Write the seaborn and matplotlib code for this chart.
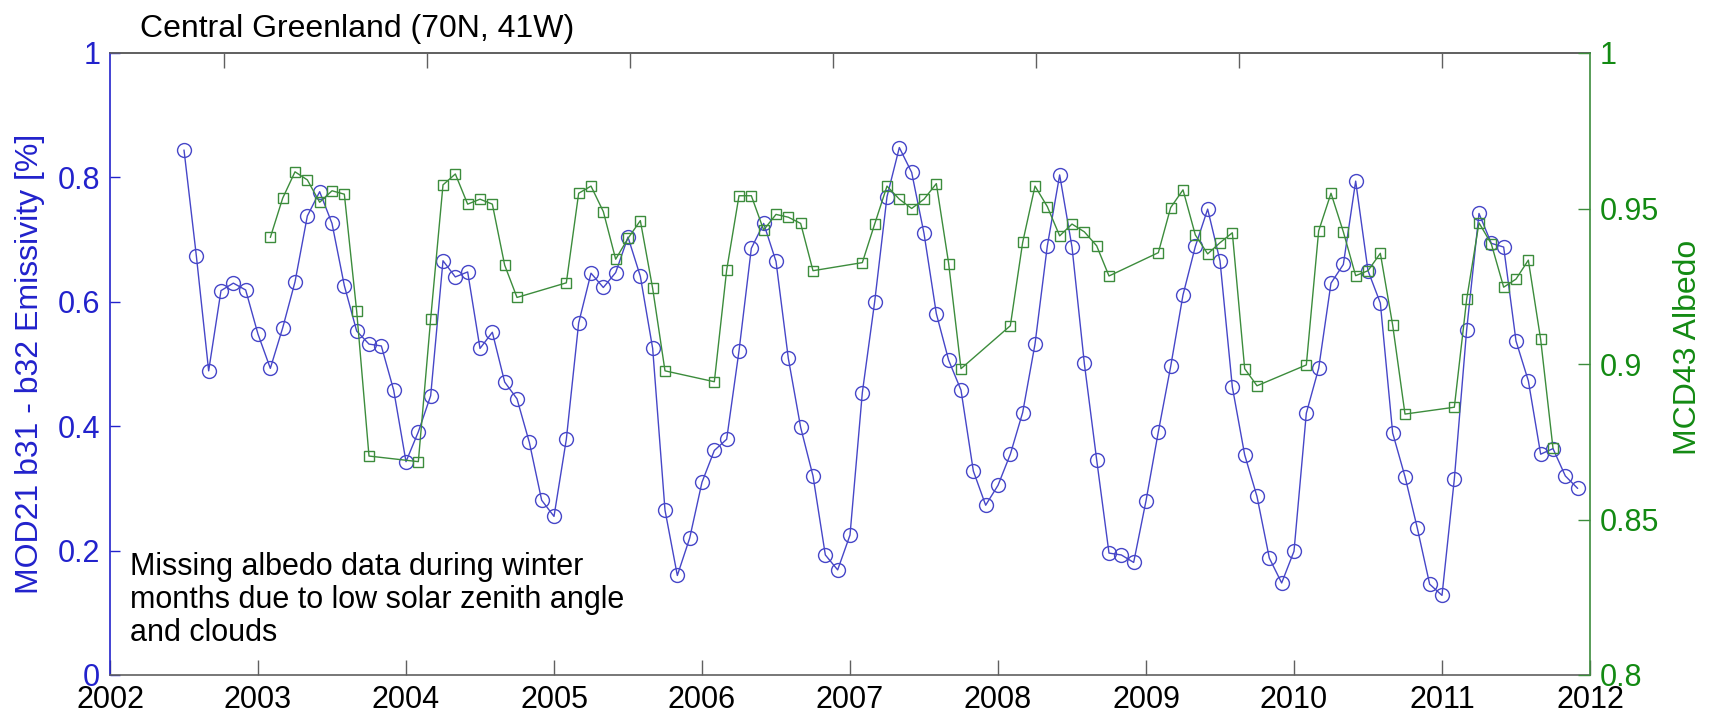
import numpy as np
import pandas as pd
import matplotlib
matplotlib.use("Agg")
import matplotlib.pyplot as plt
import seaborn as sns

# Monthly MOD21 band 31 - band 32 emissivity difference, July 2002 to December 2011
emis_years = [2002, 2003, 2004, 2005, 2006, 2007, 2008, 2009, 2010, 2011]
emis_first_month = {2002: 7}
emis_2002 = [0.844, 0.674, 0.489, 0.618, 0.630, 0.619]
emis_2003 = [0.548, 0.493, 0.558, 0.632, 0.738, 0.777, 0.726, 0.626, 0.553, 0.532, 0.529, 0.458]
emis_2004 = [0.343, 0.391, 0.449, 0.666, 0.640, 0.648, 0.525, 0.551, 0.471, 0.444, 0.374, 0.281]
emis_2005 = [0.255, 0.379, 0.566, 0.646, 0.623, 0.647, 0.704, 0.641, 0.525, 0.265, 0.160, 0.220]
emis_2006 = [0.310, 0.361, 0.379, 0.521, 0.686, 0.726, 0.665, 0.509, 0.398, 0.320, 0.193, 0.169]
emis_2007 = [0.225, 0.454, 0.600, 0.769, 0.848, 0.808, 0.710, 0.581, 0.506, 0.458, 0.328, 0.273]
emis_2008 = [0.305, 0.355, 0.422, 0.532, 0.690, 0.804, 0.688, 0.501, 0.346, 0.196, 0.193, 0.181]
emis_2009 = [0.280, 0.391, 0.496, 0.611, 0.689, 0.749, 0.666, 0.463, 0.354, 0.287, 0.188, 0.148]
emis_2010 = [0.199, 0.421, 0.493, 0.630, 0.660, 0.794, 0.650, 0.598, 0.389, 0.319, 0.236, 0.146]
emis_2011 = [0.128, 0.315, 0.555, 0.742, 0.694, 0.688, 0.537, 0.473, 0.355, 0.364, 0.320, 0.300]

# Monthly MCD43 albedo, February to October only (no winter retrievals)
albedo_years = [2003, 2004, 2005, 2006, 2007, 2008, 2009, 2010, 2011]
albedo_months = [2, 3, 4, 5, 6, 7, 8, 9, 10]
albedo_2003 = [0.9407, 0.9533, 0.9618, 0.9592, 0.9520, 0.9557, 0.9546, 0.9170, 0.8704]
albedo_2004 = [0.8686, 0.9145, 0.9576, 0.9611, 0.9514, 0.9530, 0.9514, 0.9318, 0.9214]
albedo_2005 = [0.9261, 0.9549, 0.9572, 0.9490, 0.9337, 0.9404, 0.9461, 0.9243, 0.8978]
albedo_2006 = [0.8943, 0.9302, 0.9541, 0.9541, 0.9431, 0.9481, 0.9472, 0.9452, 0.9300]
albedo_2007 = [0.9326, 0.9450, 0.9572, 0.9530, 0.9500, 0.9530, 0.9580, 0.9323, 0.8985]
albedo_2008 = [0.9123, 0.9391, 0.9572, 0.9506, 0.9412, 0.9450, 0.9425, 0.9380, 0.9283]
albedo_2009 = [0.9358, 0.9503, 0.9560, 0.9415, 0.9354, 0.9390, 0.9422, 0.8985, 0.8930]
albedo_2010 = [0.8997, 0.9428, 0.9549, 0.9425, 0.9284, 0.9300, 0.9356, 0.9125, 0.8839]
albedo_2011 = [0.8861, 0.9208, 0.9454, 0.9386, 0.9247, 0.9273, 0.9334, 0.9079, 0.8729]

x_ticks = [2002, 2003, 2004, 2005, 2006, 2007, 2008, 2009, 2010, 2011, 2012]
left_ticks = [0, 0.2, 0.4, 0.6, 0.8, 1.0]
left_labels = ["0", "0.2", "0.4", "0.6", "0.8", "1"]
right_ticks = [0.80, 0.85, 0.90, 0.95, 1.00]
right_labels = ["0.8", "0.85", "0.9", "0.95", "1"]

title_text = "Central Greenland (70N, 41W)"
note_text = ("Missing albedo data during winter\n"
             "months due to low solar zenith angle\n"
             "and clouds")

# ---- tidy tables -------------------------------------------------------
emis_rows = [emis_2002, emis_2003, emis_2004, emis_2005, emis_2006,
             emis_2007, emis_2008, emis_2009, emis_2010, emis_2011]
emis_records = []
for yr, row in zip(emis_years, emis_rows):
    m0 = emis_first_month.get(yr, 1)
    for i, v in enumerate(row):
        emis_records.append({"t": yr + (m0 - 1 + i) / 12.0, "emissivity": v})
emis_df = pd.DataFrame(emis_records)

albedo_rows = [albedo_2003, albedo_2004, albedo_2005, albedo_2006, albedo_2007,
               albedo_2008, albedo_2009, albedo_2010, albedo_2011]
alb_records = []
for yr, row in zip(albedo_years, albedo_rows):
    for m, v in zip(albedo_months, row):
        alb_records.append({"t": yr + (m - 1) / 12.0, "albedo": v})
alb_df = pd.DataFrame(alb_records)

# ---- styling -----------------------------------------------------------
sns.set_theme(style="white")
plt.rcParams["font.family"] = ["Liberation Sans", "DejaVu Sans"]

BLUE_LINE = "#4646c8"
BLUE_TEXT = "#2222cc"
GREEN_LINE = "#3c8c3c"
GREEN_TEXT = "#138a13"
GRAY = "#606060"
FS = 22

fig = plt.figure(figsize=(17.09, 7.16), dpi=100)
fig.patch.set_facecolor("white")
ax = fig.add_axes([110 / 1709, 41 / 716, 1480 / 1709, 622 / 716])
ax2 = ax.twinx()

sns.lineplot(data=emis_df, x="t", y="emissivity", ax=ax, sort=False,
             estimator=None, color=BLUE_LINE, linewidth=1.0, marker="o",
             markersize=10, markerfacecolor="none", markeredgecolor=BLUE_LINE,
             markeredgewidth=1.0)
sns.lineplot(data=alb_df, x="t", y="albedo", ax=ax2, sort=False,
             estimator=None, color=GREEN_LINE, linewidth=1.0, marker="s",
             markersize=7.5, markerfacecolor="none", markeredgecolor=GREEN_LINE,
             markeredgewidth=1.0)

ax.set_xlim(2002, 2012)
ax.set_ylim(0, 1)
ax2.set_ylim(0.8, 1.0)

ax.set_xticks(x_ticks)
ax.set_xticklabels([str(v) for v in x_ticks])
ax.set_yticks(left_ticks)
ax.set_yticklabels(left_labels)
ax2.set_yticks(right_ticks)
ax2.set_yticklabels(right_labels)

ax.tick_params(axis="x", direction="in", length=11, width=1, color=GRAY,
               labelcolor="black", labelsize=FS, pad=7, bottom=True, top=False)
ax.tick_params(axis="y", direction="in", length=7, width=1, color=BLUE_TEXT,
               labelcolor=BLUE_TEXT, labelsize=FS, pad=7, left=True)
ax2.tick_params(axis="y", direction="in", length=9, width=1, color=GREEN_LINE,
                labelcolor=GREEN_TEXT, labelsize=FS, pad=7, right=True)

# unlabeled ticks along the top edge
top_ticks = np.arange(2002.77, 2012.0, 1.372)
sec = ax.secondary_xaxis("top")
sec.set_xticks(top_ticks)
sec.tick_params(direction="in", length=11, width=1, color=GRAY,
                labeltop=False)
sec.spines["top"].set_color(GRAY)

for name, sp in ax.spines.items():
    sp.set_linewidth(1.2)
ax.spines["left"].set_color(BLUE_TEXT)
ax.spines["bottom"].set_color(GRAY)
ax.spines["top"].set_color(GRAY)
ax.spines["right"].set_visible(False)
ax2.spines["right"].set_color(GREEN_LINE)
ax2.spines["right"].set_linewidth(1.2)
for k in ("left", "top", "bottom"):
    ax2.spines[k].set_visible(False)

ax.set_xlabel("")
ax.set_ylabel("MOD21 b31 - b32 Emissivity [%]", color=BLUE_TEXT, fontsize=23)
ax.yaxis.set_label_coords(-0.044, 0.5)
ax2.set_ylabel("MCD43 Albedo", color=GREEN_TEXT, fontsize=23)
ax2.yaxis.set_label_coords(1.056, 0.526)

ax.text(0.0135, 0.197, note_text, transform=ax.transAxes, ha="left", va="top",
        fontsize=FS, color="black", linespacing=1.12)
fig.text(140 / 1709, 1 - 29 / 716, title_text, ha="left", va="center",
         fontsize=23, color="black")

fig.savefig("out.png", dpi=100, facecolor="white")
